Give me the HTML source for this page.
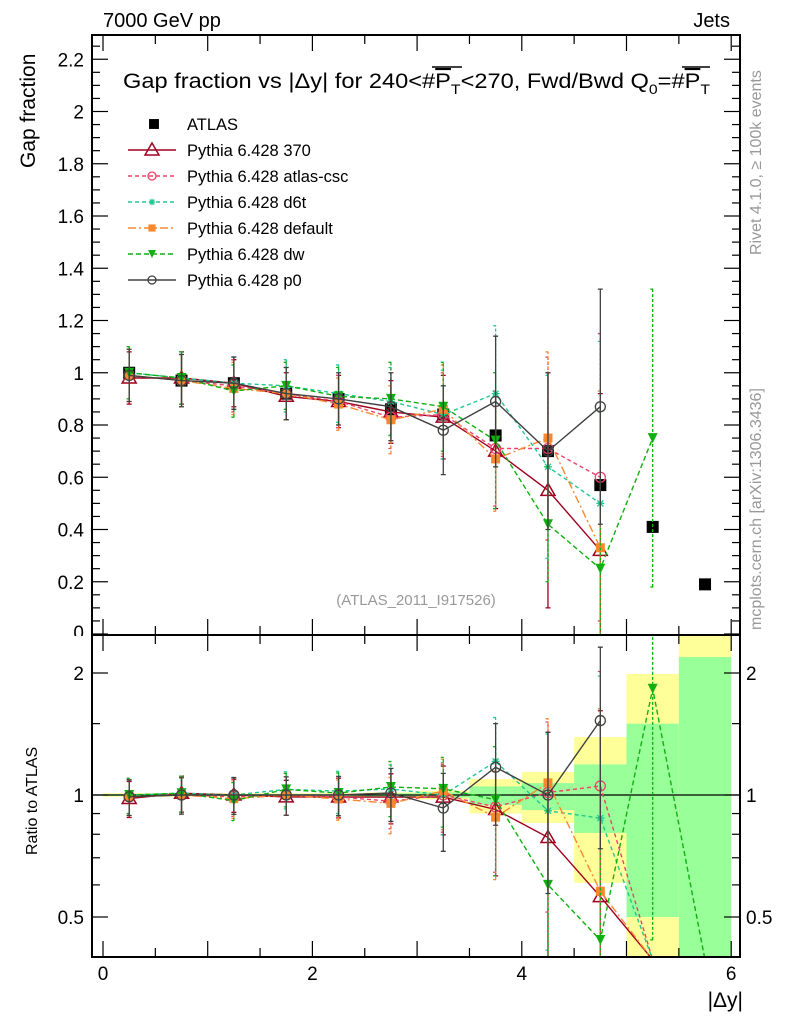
<!DOCTYPE html>
<html><head><meta charset="utf-8"><style>
html,body{margin:0;padding:0;background:#fff;width:786px;height:1024px;overflow:hidden}
svg{display:block;font-family:"Liberation Sans",sans-serif}
</style></head><body>
<svg id="chart" width="786" height="1024" viewBox="0 0 786 1024" xmlns="http://www.w3.org/2000/svg">
<defs>
<clipPath id="clipMain"><rect x="92" y="35" width="648" height="600"/></clipPath>
<clipPath id="clipRatio"><rect x="92" y="635" width="648" height="322"/></clipPath>
</defs>
<g id="bands" clip-path="url(#clipRatio)"></g>
<g id="mainMarks" clip-path="url(#clipMain)"></g>
<g id="ratioMarks" clip-path="url(#clipRatio)"></g>
<g id="axes"></g>
<text x="103" y="27" font-size="20">7000 GeV pp</text>
<text x="730" y="27" font-size="20" text-anchor="end">Jets</text>
<text x="123" y="88" font-size="21" textLength="587" lengthAdjust="spacingAndGlyphs">Gap fraction vs |Δy| for 240&lt;#<tspan text-decoration="overline">P</tspan><tspan font-size="14" dy="6">T</tspan><tspan dy="-6">&lt;270, Fwd/Bwd Q</tspan><tspan font-size="14" dy="6">0</tspan><tspan dy="-6">=#</tspan><tspan text-decoration="overline">P</tspan><tspan font-size="14" dy="6">T</tspan></text>
<line x1="432" y1="67" x2="462" y2="67" stroke="#000" stroke-width="1.5"/>
<line x1="682" y1="67" x2="710" y2="67" stroke="#000" stroke-width="1.5"/>
<text transform="translate(35,168) rotate(-90)" font-size="21">Gap fraction</text>
<text transform="translate(37,855) rotate(-90)" font-size="16">Ratio to ATLAS</text>
<text x="743" y="1007" font-size="21" text-anchor="end">|Δy|</text>
<text x="416" y="605" font-size="15" fill="#999" text-anchor="middle">(ATLAS_2011_I917526)</text>
<text transform="translate(761,255) rotate(-90)" font-size="16" fill="#999">Rivet 4.1.0, ≥ 100k events</text>
<text transform="translate(761,630) rotate(-90)" font-size="16" fill="#999">mcplots.cern.ch [arXiv:1306.3436]</text>
<g id="legend"></g>
</svg>
<script>
const xCenters=[0.25,0.75,1.25,1.75,2.25,2.75,3.25,3.75,4.25,4.75,5.25,5.75];
const atlasVals=[1.0,0.97,0.96,0.92,0.90,0.86,0.84,0.76,0.70,0.57,0.41,0.19];
const atlasErr=[0.01,0.01,0.01,0.01,0.01,0.01,0.01,0.01,0.01,0.01,0.01,0.01];
const bandStatLo=[0.995,0.995,0.995,0.995,0.995,0.99,0.985,0.945,0.918,0.806,0.5,0.3];
const bandStatHi=[1.005,1.005,1.005,1.005,1.005,1.01,1.015,1.05,1.07,1.19,1.5,2.19];
const bandTotLo=[0.99,0.99,0.99,0.99,0.99,0.985,0.975,0.90,0.853,0.607,0.3,0.3];
const bandTotHi=[1.01,1.01,1.01,1.01,1.01,1.015,1.025,1.095,1.14,1.39,1.99,2.6];
const vals370=[0.98,0.98,0.96,0.91,0.89,0.85,0.83,0.70,0.55,0.32,0,null];
const err370=[0.1,0.1,0.09,0.09,0.1,0.12,0.16,0.22,0.45,0.6,0,null];
const valsCsc=[0.99,0.97,0.95,0.92,0.89,0.83,0.84,0.71,0.71,0.60,0,null];
const errCsc=[0.1,0.1,0.1,0.1,0.1,0.12,0.16,0.22,0.35,0.55,0,null];
const valsD6t=[1.0,0.98,0.96,0.95,0.92,0.89,0.84,0.92,0.64,0.50,0,null];
const errD6t=[0.1,0.1,0.1,0.1,0.11,0.13,0.17,0.26,0.35,0.62,0,null];
const valsDef=[0.99,0.97,0.94,0.92,0.88,0.82,0.86,0.67,0.75,0.33,0,null];
const errDef=[0.1,0.1,0.1,0.1,0.1,0.13,0.17,0.2,0.33,0.6,0,null];
const valsDw=[1.0,0.98,0.93,0.95,0.91,0.90,0.87,0.74,0.42,0.25,0.75,0];
const errDw=[0.1,0.1,0.1,0.09,0.11,0.14,0.17,0.26,0.22,0.6,0.57,0];
const valsP0=[0.99,0.97,0.96,0.92,0.90,0.87,0.78,0.89,0.70,0.87,null,null];
const errP0=[0.1,0.1,0.1,0.1,0.1,0.13,0.17,0.25,0.3,0.45,null,null];
const mainTicks=["0.2","0.4","0.6","0.8","1","1.2","1.4","1.6","1.8","2","2.2"];
const xTickLabels=["0","2","4","6"];
const ratioTickLabels=["0.5","1","2"];

const NS="http://www.w3.org/2000/svg";
const X0=92,X1=740,MT=35,MB=635,RT=635,RB=957;
const xs=v=>103+v*104.7;
const ym=v=>634-v*261.25;
const yr=r=>795-122*Math.log2(r);
const RMIN=0.4,RMAX=2.48;
function mk(tag,attrs,parent){const e=document.createElementNS(NS,tag);for(const k in attrs)e.setAttribute(k,attrs[k]);parent.appendChild(e);return e;}
const axes=document.getElementById('axes'),mainG=document.getElementById('mainMarks'),ratioG=document.getElementById('ratioMarks'),bandG=document.getElementById('bands'),legG=document.getElementById('legend');

for(let i=0;i<xCenters.length;i++){
  const xa=xs(xCenters[i]-0.25),xb=xs(xCenters[i]+0.25);
  let r=mk('rect',{x:xa,y:yr(bandTotHi[i]),width:xb-xa,height:yr(bandTotLo[i])-yr(bandTotHi[i]),fill:'#ffff99'},bandG);
  
  
  r=mk('rect',{x:xa,y:yr(bandStatHi[i]),width:xb-xa,height:yr(bandStatLo[i])-yr(bandStatHi[i]),fill:'#99ff99'},bandG);
  
  
}
mk('line',{x1:X0,x2:X1,y1:yr(1),y2:yr(1),stroke:'#000','stroke-width':1.2},bandG);

const series=[
 {name:'370',vals:vals370,err:err370,color:'#a0001e',dash:'',marker:'tri'},
 {name:'atlas-csc',vals:valsCsc,err:errCsc,color:'#f0406a',dash:'4,3',marker:'circ'},
 {name:'d6t',vals:valsD6t,err:errD6t,color:'#20c890',dash:'4,3',marker:'star'},
 {name:'default',vals:valsDef,err:errDef,color:'#f88830',dash:'8,3,2,3',marker:'sq'},
 {name:'dw',vals:valsDw,err:errDw,color:'#10b010',dash:'5,3',marker:'tridown'},
 {name:'p0',vals:valsP0,err:errP0,color:'#404040',dash:'',marker:'circ'}
];
function marker(type,x,y,c,g,s){
  s=s||1;
  if(type==='tri')return mk('path',{d:`M${x},${y-7*s}L${x+7*s},${y+5*s}L${x-7*s},${y+5*s}Z`,fill:'none',stroke:c,'stroke-width':1.5},g);
  if(type==='circ')return mk('circle',{cx:x,cy:y,r:5*s,fill:'none',stroke:c,'stroke-width':1.3},g);
  if(type==='sq')return mk('rect',{x:x-4.5*s,y:y-4.5*s,width:9*s,height:9*s,fill:c},g);
  if(type==='bigsq')return mk('rect',{x:x-6,y:y-6,width:12,height:12,fill:c},g);
  if(type==='tridown')return mk('path',{d:`M${x-5*s},${y-5*s}L${x+5*s},${y-5*s}L${x},${y+5*s}Z`,fill:c},g);
  if(type==='star')return mk('path',{d:`M${x-4*s},${y}H${x+4*s}M${x},${y-4*s}V${y+4*s}M${x-3*s},${y-3*s}L${x+3*s},${y+3*s}M${x-3*s},${y+3*s}L${x+3*s},${y-3*s}`,stroke:c,'stroke-width':1.3},g);
}
function drawSeries(s,g,yf,isRatio){
  let d='';let pen=false;
  for(let i=0;i<xCenters.length;i++){
    let v=s.vals[i];
    if(v===null){pen=false;continue;}
    if(isRatio){v=v/atlasVals[i];if(v<=0)v=RMIN*0.98;}
    else if(v===0){pen=false;continue;}
    d+=(pen?'L':'M')+xs(xCenters[i]).toFixed(1)+','+yf(v).toFixed(1);pen=true;
  }
  const p=mk('path',{d:d,fill:'none',stroke:s.color,'stroke-width':1.4,'stroke-dasharray':s.dash},g);
  
  
  for(let i=0;i<xCenters.length;i++){
    let v=s.vals[i],e=s.err[i];
    if(v===null||v===0)continue;
    let lo=v-e,hi=v+e;
    if(isRatio){lo=Math.max(lo,0.001)/atlasVals[i];hi=hi/atlasVals[i];v=v/atlasVals[i];}
    const x=xs(xCenters[i]);
    const y1=yf(Math.max(lo,isRatio?0.01:-1)),y2=yf(hi);
    const eb=mk('path',{d:`M${x},${y1}V${y2}M${x-2.5},${y1}H${x+2.5}M${x-2.5},${y2}H${x+2.5}`,stroke:s.color,'stroke-width':1.3,'stroke-dasharray':s.dash?'3,2':''},g);
    
    
    const m=marker(s.marker,x,yf(v),s.color,g);
    
    
  }
}
function drawAtlas(g,yf){
  for(let i=0;i<xCenters.length;i++){
    const x=xs(xCenters[i]);
    const m=marker('bigsq',x,yf(atlasVals[i]),'#000',g);
    
    
  }
}
drawAtlas(mainG,ym);
series.forEach(s=>{drawSeries(s,mainG,ym,false);drawSeries(s,ratioG,yr,true);});

mk('rect',{x:X0,y:MT,width:X1-X0,height:MB-MT,fill:'none',stroke:'#000','stroke-width':2},axes);
mk('rect',{x:X0,y:RT,width:X1-X0,height:RB-RT,fill:'none',stroke:'#000','stroke-width':2},axes);
for(let v=0;v<=2.29;v+=0.05){
  const y=ym(v);if(y<MT)break;
  const major=Math.abs(v/0.2-Math.round(v/0.2))<1e-6;
  const L=major?16:8;
  mk('line',{x1:X0,x2:X0+L,y1:y,y2:y,stroke:'#000','stroke-width':1.2},axes);
  mk('line',{x1:X1,x2:X1-L,y1:y,y2:y,stroke:'#000','stroke-width':1.2},axes);
}
mainTicks.forEach(t=>{
  const tx=mk('text',{x:84,y:ym(parseFloat(t))+7,'font-size':19,'text-anchor':'end'},axes);tx.textContent=t;
  
  
});
const z=mk('text',{x:84,y:639,'font-size':19,'text-anchor':'end'},axes);z.textContent='0';


mk('rect',{x:60,y:636,width:30,height:10,fill:'#fff'},axes);
for(let v=0;v<=6.01;v+=0.5){
  const x=xs(v);const major=Math.abs(v-Math.round(v))<1e-6;const L=major?16:9;
  [[MB,-1],[RT,1],[RB,-1]].forEach(([y0,dir])=>mk('line',{x1:x,x2:x,y1:y0,y2:y0+dir*L,stroke:'#000','stroke-width':1.2},axes));
  mk('line',{x1:x,x2:x,y1:MT,y2:MT+L,stroke:'#000','stroke-width':1.2},axes);
}
xTickLabels.forEach(t=>{
  const tx=mk('text',{x:xs(parseFloat(t)),y:980,'font-size':19,'text-anchor':'middle'},axes);tx.textContent=t;
  
  
});
[0.5,0.6,0.7,0.8,0.9,1,1.5,2].forEach(v=>{
  const y=yr(v);const major=(v===0.5||v===1||v===2);const L=major?16:8;
  mk('line',{x1:X0,x2:X0+L,y1:y,y2:y,stroke:'#000','stroke-width':1.2},axes);
  mk('line',{x1:X1,x2:X1-L,y1:y,y2:y,stroke:'#000','stroke-width':1.2},axes);
});
ratioTickLabels.forEach(t=>{
  let tx=mk('text',{x:84,y:yr(parseFloat(t))+7,'font-size':19,'text-anchor':'end'},axes);tx.textContent=t;
  
  
  tx=mk('text',{x:746,y:yr(parseFloat(t))+7,'font-size':19,'text-anchor':'start'},axes);tx.textContent=t;
  
  
});
const legNames=['ATLAS'].concat(series.map(s=>'Pythia 6.428 '+s.name));
legNames.forEach((n,i)=>{
  const y=124+i*26;
  const g=mk('g',{},legG);
  
  
  if(i===0){marker('sq',154,y,'#000',g,1.1);}
  else{const s=series[i-1];
    mk('line',{x1:128,x2:176,y1:y,y2:y,stroke:s.color,'stroke-width':1.4,'stroke-dasharray':s.dash},g);
    marker(s.marker,152,y,s.color,g,s.marker==='tri'?1:0.8);
  }
  const t=mk('text',{x:187,y:y+6,'font-size':16.5},g);t.textContent=n;
});
</script>
</body></html>
